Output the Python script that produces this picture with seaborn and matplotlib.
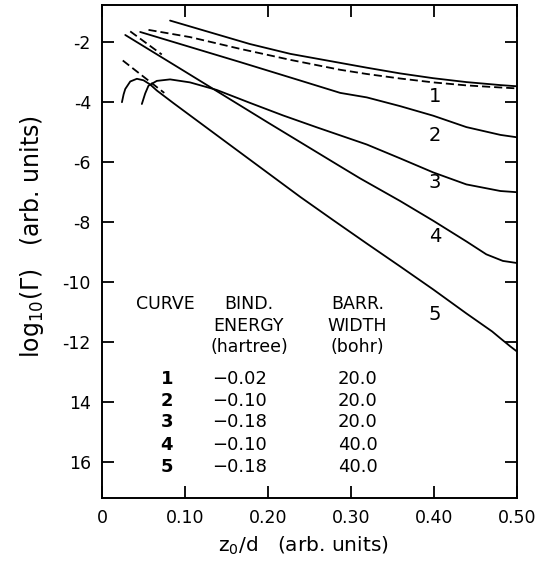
import matplotlib
matplotlib.use('Agg')  # Headless backend
import matplotlib.pyplot as plt
import seaborn as sns
import pandas as pd

# values: z0/d and log10(Gamma)
c1_x = [0.082, 0.130, 0.178, 0.227, 0.287, 0.319, 0.359, 0.399, 0.439, 0.480, 0.500]
c1_y = [-1.29, -1.68, -2.07, -2.40, -2.70, -2.86, -3.05, -3.21, -3.34, -3.44, -3.48]

c2_x = [0.046, 0.106, 0.166, 0.239, 0.287, 0.319, 0.359, 0.399, 0.439, 0.480, 0.500]
c2_y = [-1.67, -2.17, -2.67, -3.29, -3.70, -3.85, -4.14, -4.46, -4.84, -5.10, -5.18]

c3_x = [0.048, 0.052, 0.056, 0.066, 0.082, 0.106, 0.138, 0.178, 0.218, 0.259,
        0.299, 0.319, 0.359, 0.399, 0.439, 0.480, 0.500]
c3_y = [-4.07, -3.72, -3.46, -3.30, -3.25, -3.35, -3.60, -4.03, -4.45, -4.85,
        -5.23, -5.42, -5.88, -6.35, -6.75, -6.97, -7.01]

c4_x = [0.028, 0.100, 0.200, 0.287, 0.311, 0.359, 0.399, 0.439, 0.463, 0.483, 0.500]
c4_y = [-1.77, -2.99, -4.69, -6.15, -6.55, -7.30, -7.96, -8.65, -9.08, -9.30, -9.37]

c5_x = [0.024, 0.026, 0.028, 0.034, 0.042, 0.050, 0.058, 0.066, 0.086, 0.150,
        0.239, 0.279, 0.319, 0.359, 0.399, 0.439, 0.470, 0.480, 0.492, 0.500]
c5_y = [-4.01, -3.75, -3.57, -3.32, -3.23, -3.28, -3.42, -3.62, -4.04, -5.35,
        -7.17, -7.95, -8.72, -9.48, -10.25, -11.05, -11.65, -11.88, -12.15, -12.32]

# dashed approximations
d1_x = [0.056, 0.106, 0.166, 0.227, 0.287, 0.319, 0.359, 0.399, 0.439, 0.480, 0.500]
d1_y = [-1.60, -1.84, -2.23, -2.60, -2.93, -3.07, -3.22, -3.35, -3.45, -3.52, -3.55]
d4_x = [0.034, 0.072]
d4_y = [-1.65, -2.42]
d5_x = [0.025, 0.075]
d5_y = [-2.62, -3.70]

curve_names = ['1', '2', '3', '4', '5']
curve_label_y = [-3.83, -5.13, -6.67, -8.50, -11.07]

bind_energy = ['\u22120.02', '\u22120.10', '\u22120.18', '\u22120.10', '\u22120.18']
barr_width = ['20.0', '20.0', '20.0', '40.0', '40.0']

x_ticks = [0, 0.1, 0.2, 0.3, 0.4, 0.5]
x_ticklabels = ['0', '0.10', '0.20', '0.30', '0.40', '0.50']
y_ticks = [-2, -4, -6, -8, -10, -12, -14, -16]
y_ticklabels = ['-2', '-4', '-6', '-8', '-10', '-12', '14', '16']

sns.set_theme(style="ticks")
plt.rcParams.update({
    'axes.linewidth': 1.4,
    'xtick.direction': 'in',
    'ytick.direction': 'in',
    'xtick.major.size': 8.5,
    'ytick.major.size': 8.5,
    'xtick.major.width': 1.3,
    'ytick.major.width': 1.3,
    'xtick.major.pad': 8,
    'ytick.major.pad': 8,
    'axes.edgecolor': 'black',
    'axes.labelcolor': 'black',
    'text.color': 'black',
    'xtick.color': 'black',
    'ytick.color': 'black',
})
plt.rcParams['font.family'] = ['DejaVu Sans']

fig = plt.figure(figsize=(5.47, 5.65), dpi=100)
ax = fig.add_axes([0.1865, 0.1186, 0.7587, 0.8726])

solid = [(c1_x, c1_y), (c2_x, c2_y), (c3_x, c3_y), (c4_x, c4_y), (c5_x, c5_y)]
for xs, ys in solid:
    df = pd.DataFrame({'x': xs, 'y': ys})
    sns.lineplot(data=df, x='x', y='y', ax=ax, color='black', lw=1.3,
                 sort=False, estimator=None)

for xs, ys in [(d1_x, d1_y), (d4_x, d4_y), (d5_x, d5_y)]:
    df = pd.DataFrame({'x': xs, 'y': ys})
    sns.lineplot(data=df, x='x', y='y', ax=ax, color='black', lw=1.3,
                 sort=False, estimator=None, linestyle=(0, (4.5, 2.2)))

# curve numbers next to the lines
for name, yv in zip(curve_names, curve_label_y):
    ax.text(0.401, yv, name, ha='center', va='center', fontsize=14)

# table of parameters
hdr_y = [-10.73, -11.47, -12.17]
ax.text(0.076, hdr_y[0], 'CURVE', ha='center', va='center', fontsize=12.5)
ax.text(0.177, hdr_y[0], 'BIND.', ha='center', va='center', fontsize=12.5)
ax.text(0.177, hdr_y[1], 'ENERGY', ha='center', va='center', fontsize=12.5)
ax.text(0.177, hdr_y[2], '(hartree)', ha='center', va='center', fontsize=12.5)
ax.text(0.308, hdr_y[0], 'BARR.', ha='center', va='center', fontsize=12.5)
ax.text(0.308, hdr_y[1], 'WIDTH', ha='center', va='center', fontsize=12.5)
ax.text(0.308, hdr_y[2], '(bohr)', ha='center', va='center', fontsize=12.5)

row_y = [-13.23, -13.96, -14.68, -15.43, -16.17]
for name, be, bw, yv in zip(curve_names, bind_energy, barr_width, row_y):
    ax.text(0.078, yv, name, ha='center', va='center', fontsize=13, fontweight='bold')
    ax.text(0.166, yv, be, ha='center', va='center', fontsize=13)
    ax.text(0.308, yv, bw, ha='center', va='center', fontsize=13)

ax.set_xlim(0, 0.5)
ax.set_ylim(-17.2, -0.77)
ax.set_xticks(x_ticks)
ax.set_xticklabels(x_ticklabels, fontsize=12.5)
ax.set_yticks(y_ticks)
ax.set_yticklabels(y_ticklabels, fontsize=12.5)
ax.tick_params(top=True, right=True)
ax.set_xlabel('z$_{\\mathregular{0}}$/d   (arb. units)', fontsize=14.5)
ax.set_ylabel('log$_{\\mathregular{10}}$(\u0393)   (arb. units)', fontsize=17)
ax.xaxis.set_label_coords(0.484, -0.075)
ax.yaxis.set_label_coords(-0.135, 0.53)

fig.savefig('out.png', dpi=100)
plt.close(fig)
